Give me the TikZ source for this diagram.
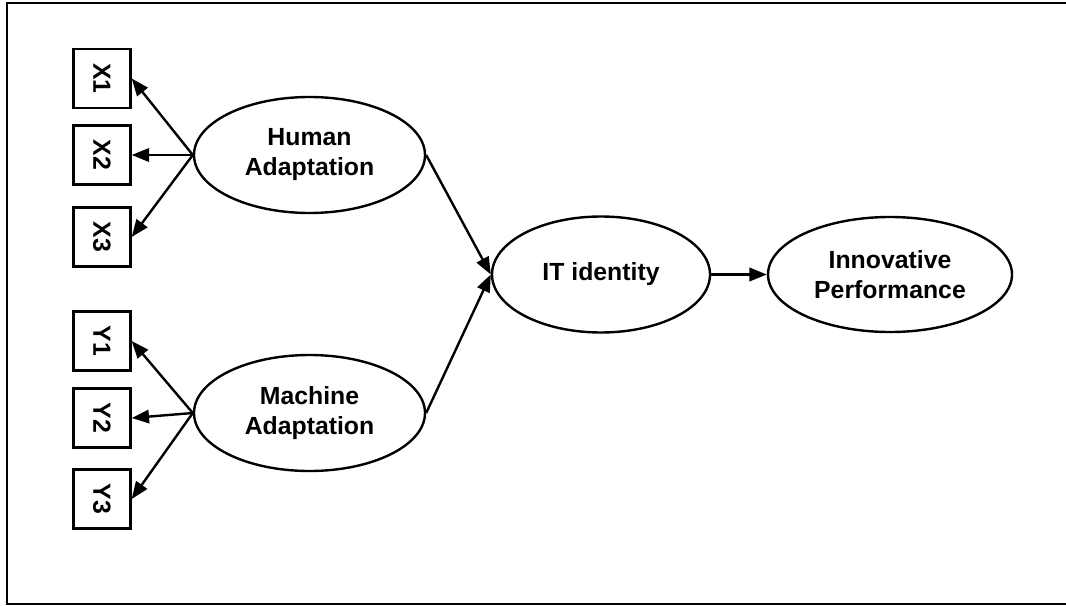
\documentclass[tikz,border=0pt]{standalone}
\usepackage{fontspec}
\setmainfont{Liberation Sans}
\usetikzlibrary{shapes.geometric,arrows.meta}

\begin{document}
\begin{tikzpicture}[
  latent/.style={ellipse, draw, line width=\semLineWidth, inner sep=0pt, align=center, font=\semFont},
  indicator/.style={rectangle, draw, line width=\semLineWidth, minimum width=42.75pt, minimum height=44.25pt, inner sep=0pt, font=\semFont},
  loading/.style={line width=\semLineWidth, -{Triangle[length=13pt,width=10pt]}}
]
% SEM path diagram, coordinates in pixels of the source image
\providecommand{\semLineWidth}{1.8pt}
\providecommand{\semFrameWidth}{1.6pt}
\providecommand{\semFont}{\fontsize{18.6pt}{22.5pt}\selectfont\bfseries}
\begin{scope}[x=0.75pt, y=-0.75pt, line cap=butt, line join=miter]
  \useasboundingbox (0,0) rectangle (1066,606);
  % Page frame (left, bottom and top edges)
  \draw[line width=\semFrameWidth] (7,3) -- (7,604) -- (1066,604);
  \draw[line width=0.8pt] (65,3) -- (1017,3);
  \draw[line width=\semFrameWidth] (6,3) -- (65,3);
  \draw[line width=\semFrameWidth] (1017,3) -- (1066,3);
  % Latent variables
  \node[latent, minimum width=173.25pt, minimum height=87pt] (human) at (309.5,155) {Human\\Adaptation};
  \node[latent, minimum width=173.25pt, minimum height=87pt] (machine) at (309.5,413) {Machine\\Adaptation};
  \node[latent, minimum width=163.5pt, minimum height=87pt] (it) at (601,274.5) {IT identity};
  \node[latent, minimum width=183pt, minimum height=86.25pt] (perf) at (890,274.5) {Innovative\\Performance};
  % Indicators
  \node[indicator] (x1) at (102,78.5) {\rotatebox{-90}{X1}};
  \node[indicator] (x2) at (102,155) {\rotatebox{-90}{X2}};
  \node[indicator] (x3) at (102,237) {\rotatebox{-90}{X3}};
  \node[indicator] (y1) at (102,341) {\rotatebox{-90}{Y1}};
  \node[indicator] (y2) at (102,418) {\rotatebox{-90}{Y2}};
  \node[indicator] (y3) at (102,499) {\rotatebox{-90}{Y3}};
  % Measurement paths
  \draw[loading] (human.west) -- (x1.east);
  \draw[loading] (human.west) -- (x2.east);
  \draw[loading] (human.west) -- (x3.east);
  \draw[loading] (machine.west) -- (y1.east);
  \draw[loading] (machine.west) -- (y2.east);
  \draw[loading] (machine.west) -- (y3.east);
  % Structural paths
  \draw[loading] (human.east) -- (it.west);
  \draw[loading] (machine.east) -- (it.west);
  \draw[loading] (it.east) -- (perf.west);
\end{scope}
\end{tikzpicture}
\end{document}
